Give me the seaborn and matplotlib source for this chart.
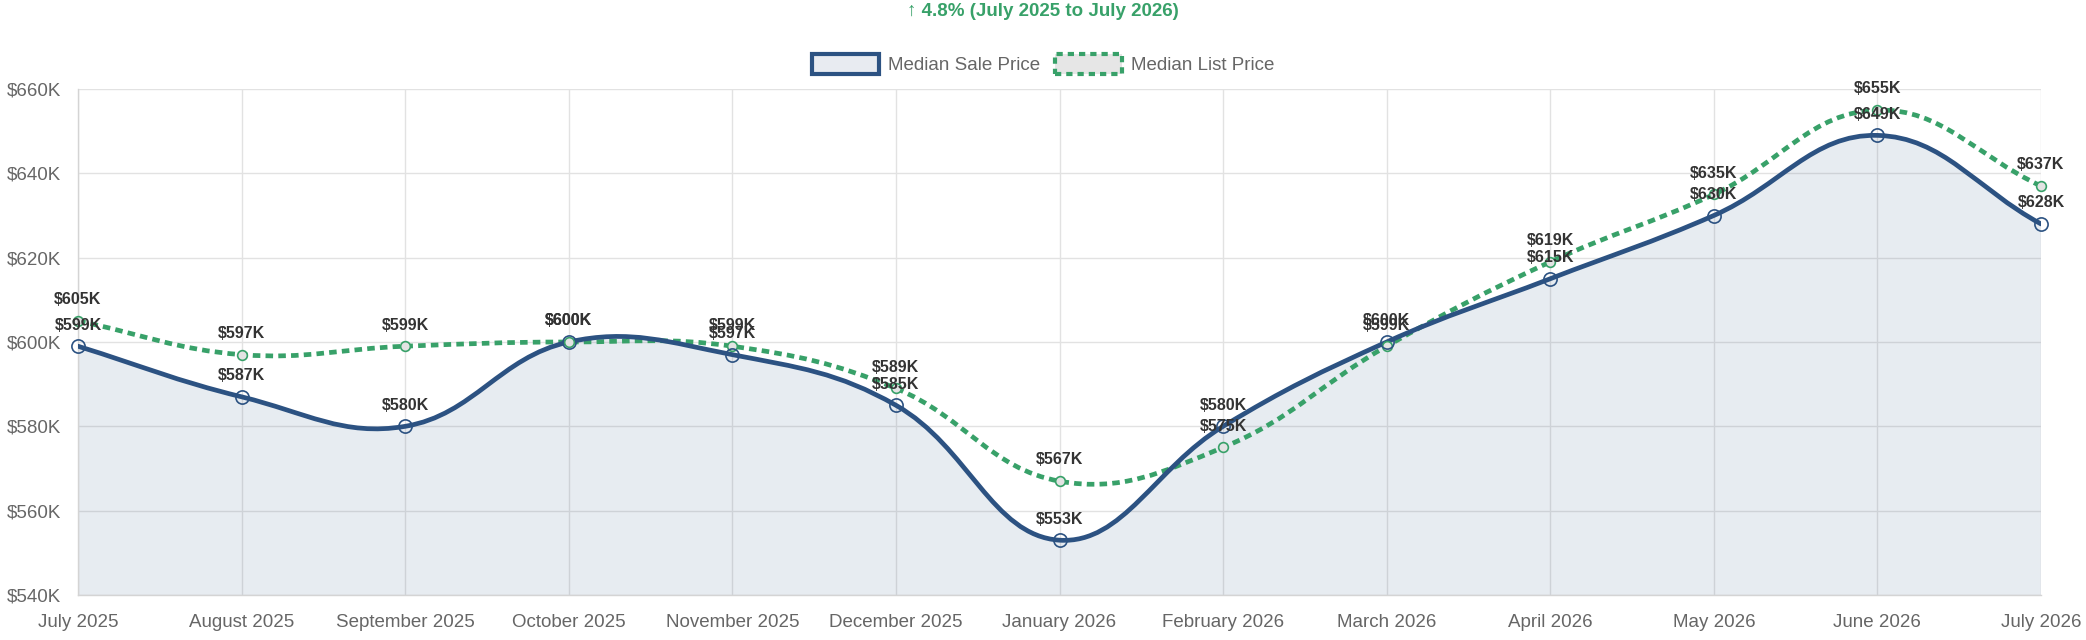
import numpy as np
import pandas as pd
import matplotlib
matplotlib.use("Agg")
import matplotlib.pyplot as plt
from matplotlib.path import Path
from matplotlib.patches import PathPatch, Patch
import seaborn as sns

# --- datos ---
meses = ["July 2025", "August 2025", "September 2025", "October 2025", "November 2025",
         "December 2025", "January 2026", "February 2026", "March 2026", "April 2026",
         "May 2026", "June 2026", "July 2026"]
venta_mediana = [599, 587, 580, 600, 597, 585, 553, 580, 600, 615, 630, 649, 628]   # miles USD
lista_mediana = [605, 597, 599, 600, 599, 589, 567, 575, 599, 619, 635, 655, 637]   # miles USD
ticks_y = [540, 560, 580, 600, 620, 640, 660]
titulo = "\u2191 4.8% (July 2025 to July 2026)"

AZUL = "#2c5282"
VERDE = "#38a169"
GRIS_GRID = "#e2e2e2"

sns.set_theme(style="whitegrid")
plt.rcParams["font.family"] = ["Liberation Sans", "DejaVu Sans"]

df = pd.DataFrame({"idx": np.arange(len(meses)), "venta": venta_mediana, "lista": lista_mediana})

fig = plt.figure(figsize=(20.86, 6.4), dpi=100)
ax = fig.add_axes([78 / 2086, 1 - 595 / 640, (2041 - 78) / 2086, (595 - 89) / 640])
ax.set_xlim(0, len(meses) - 1)
ax.set_ylim(ticks_y[0], ticks_y[-1])


def curva_suave(xs, ys, tension=0.4):
    # curva tipo Chart.js calculada en pixeles y devuelta en coordenadas de datos
    pts = ax.transData.transform(np.column_stack([xs, ys]))
    n = len(pts)
    cp_prev, cp_next = [], []
    for i in range(n):
        prev = pts[i - 1] if i > 0 else pts[i]
        cur = pts[i]
        nxt = pts[i + 1] if i < n - 1 else pts[i]
        d01 = np.hypot(*(cur - prev))
        d12 = np.hypot(*(nxt - cur))
        tot = d01 + d12
        s01 = d01 / tot if tot else 0
        s12 = d12 / tot if tot else 0
        cp_prev.append(cur - tension * s01 * (nxt - prev))
        cp_next.append(cur + tension * s12 * (nxt - prev))
    verts, codes = [pts[0]], [Path.MOVETO]
    for i in range(n - 1):
        verts += [cp_next[i], cp_prev[i + 1], pts[i + 1]]
        codes += [Path.CURVE4] * 3
    verts = ax.transData.inverted().transform(np.array(verts))
    return verts, codes


# relleno bajo la venta
v_venta, c_venta = curva_suave(df["idx"], df["venta"])
v_fill = np.vstack([v_venta, [[df["idx"].iloc[-1], ticks_y[0]], [0, ticks_y[0]], v_venta[0]]])
c_fill = c_venta + [Path.LINETO, Path.LINETO, Path.CLOSEPOLY]
ax.add_patch(PathPatch(Path(v_fill, c_fill), facecolor=AZUL, alpha=0.11, edgecolor="none", zorder=1))

# lineas suaves
ax.add_patch(PathPatch(Path(v_venta, c_venta), facecolor="none", edgecolor=AZUL,
                       linewidth=3.4, zorder=3, capstyle="round"))
v_lista, c_lista = curva_suave(df["idx"], df["lista"])
ax.add_patch(PathPatch(Path(v_lista, c_lista), facecolor="none", edgecolor=VERDE,
                       linewidth=3.4, linestyle=(0, (1.6, 1.1)), zorder=2, capstyle="butt"))

# puntos
sns.lineplot(data=df, x="idx", y="lista", ax=ax, marker="o", linestyle="none", markersize=7,
             markerfacecolor="#e3e3e3", markeredgecolor=VERDE, markeredgewidth=1.2, color=VERDE,
             zorder=4, clip_on=False)
sns.lineplot(data=df, x="idx", y="venta", ax=ax, marker="o", linestyle="none", markersize=9.5,
             markerfacecolor="none", markeredgecolor=AZUL, markeredgewidth=1.2, color=AZUL,
             zorder=5, clip_on=False)

# etiquetas
for serie in ["lista", "venta"]:
    for x, y in zip(df["idx"], df[serie]):
        ax.annotate(f"${y}K", (x, y), xytext=(0, 12), textcoords="offset points",
                    ha="center", va="baseline", fontsize=11.5, fontweight="bold",
                    color="#333333", zorder=6, annotation_clip=False)

# ejes
ax.set_xticks(df["idx"])
ax.set_xticklabels(meses)
ax.set_yticks(ticks_y)
ax.set_yticklabels([f"${t}K" for t in ticks_y])
ax.set_xlabel("")
ax.set_ylabel("")
ax.grid(True, color=GRIS_GRID, linewidth=1)
ax.set_axisbelow(True)
ax.set_facecolor("white")
for lado in ["top", "right"]:
    ax.spines[lado].set_visible(False)
for lado in ["left", "bottom"]:
    ax.spines[lado].set_color("#d4d4d4")
    ax.spines[lado].set_linewidth(1)
ax.tick_params(axis="both", length=7, width=1, color=GRIS_GRID, labelcolor="#666666",
               labelsize=13.5, pad=5)
ax.tick_params(axis="x", pad=7)

# leyenda
handles = [
    Patch(facecolor="#e8ebf1", edgecolor=AZUL, linewidth=3, label="Median Sale Price"),
    Patch(facecolor="#e6e6e6", edgecolor=VERDE, linewidth=3, linestyle=(0, (1.5, 1.2)),
          label="Median List Price"),
]
leg = fig.legend(handles=handles, loc="center", bbox_to_anchor=(0.5, 1 - 64 / 640), ncol=2,
                 frameon=False, fontsize=13.5, handlelength=3.6, handleheight=1.3,
                 handletextpad=0.45, columnspacing=0.8, borderpad=0)
for t in leg.get_texts():
    t.set_color("#666666")

fig.text(0.5, 1 - 12 / 640, titulo, ha="center", va="center", fontsize=13.5,
         fontweight="bold", color=VERDE)

fig.savefig("out.png", dpi=100, facecolor="white")
